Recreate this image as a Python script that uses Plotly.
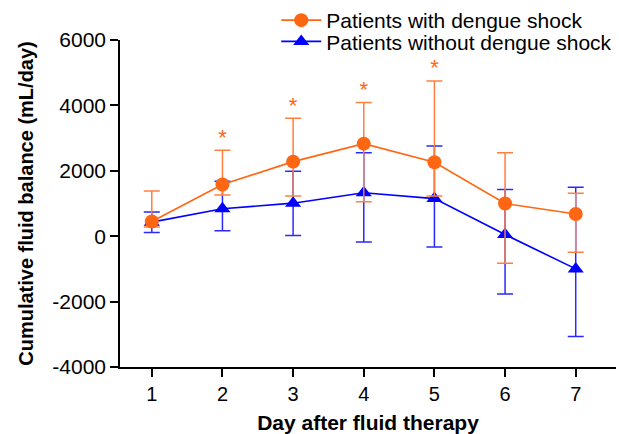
import plotly.graph_objects as go

days = [1, 2, 3, 4, 5, 6, 7]
shock_mean = [450, 1580, 2280, 2830, 2260, 1000, 680]
shock_upper = [1380, 2630, 3610, 4090, 4750, 2550, 1310]
shock_lower = [285, 1260, 1230, 1050, 1230, -830, -490]
noshock_mean = [430, 840, 1010, 1330, 1150, 50, -1000]
noshock_upper = [740, 1680, 1990, 2550, 2760, 1430, 1500]
noshock_lower = [110, 170, 20, -180, -330, -1770, -3070]
sig_days = [2, 3, 4, 5]
y_ticks = [-4000, -2000, 0, 2000, 4000, 6000]

ORANGE = "#FF6611"
ORANGE_ERR = "#FF7F3F"
BLUE = "#0000FF"
BLUE_ERR = "#2A2AFF"

fig = go.Figure()
fig.add_trace(go.Scatter(
    x=days, y=noshock_mean, mode="lines+markers", name="Patients without dengue shock",
    line=dict(color=BLUE, width=1.6),
    marker=dict(symbol="triangle-up", size=14, color=BLUE),
    error_y=dict(type="data", symmetric=False,
                 array=[u - m for u, m in zip(noshock_upper, noshock_mean)],
                 arrayminus=[m - l for m, l in zip(noshock_mean, noshock_lower)],
                 color=BLUE_ERR, thickness=1.5, width=8),
    legend="legend2",
))
fig.add_trace(go.Scatter(
    x=days, y=shock_mean, mode="lines+markers", name="Patients with dengue shock",
    line=dict(color=ORANGE, width=1.6),
    marker=dict(symbol="circle", size=14, color=ORANGE),
    error_y=dict(type="data", symmetric=False,
                 array=[u - m for u, m in zip(shock_upper, shock_mean)],
                 arrayminus=[m - l for m, l in zip(shock_mean, shock_lower)],
                 color=ORANGE_ERR, thickness=1.5, width=8),
    legend="legend",
))
sig_y = [shock_upper[days.index(d)] for d in sig_days]
fig.add_trace(go.Scatter(
    x=sig_days, y=sig_y, mode="text", text=["*"] * len(sig_days),
    textposition="top center", textfont=dict(color=ORANGE, size=22, family="Liberation Sans"),
    showlegend=False, hoverinfo="skip",
))

legend_common = dict(xanchor="left", yanchor="top", yref="container",
                     font=dict(size=21), bgcolor="rgba(0,0,0,0)", itemwidth=40)
fig.update_layout(
    width=619, height=434,
    margin=dict(l=120, r=3, t=40, b=67, autoexpand=False),
    paper_bgcolor="white", plot_bgcolor="white",
    font=dict(family="Liberation Sans, Arial, sans-serif", color="black", size=20),
    legend=dict(x=0.315, y=1.003, **legend_common),
    legend2=dict(x=0.315, y=0.951, **legend_common),
    showlegend=True,
)
fig.update_xaxes(
    range=[0.55, 7.57], tickmode="array", tickvals=days, ticktext=[str(d) for d in days],
    showline=True, linecolor="black", linewidth=1.5, ticks="outside", ticklen=8,
    tickwidth=1.5, tickcolor="black", showgrid=False, zeroline=False,
    title=dict(text="<b>Day after fluid therapy</b>", font=dict(size=21), standoff=12),
    tickfont=dict(size=20),
)
fig.update_yaxes(
    range=[-4000, 6000], tickmode="array", tickvals=y_ticks, ticktext=[str(t) for t in y_ticks],
    showline=True, linecolor="black", linewidth=1.5, ticks="outside", ticklen=8,
    tickwidth=1.5, tickcolor="black", showgrid=False, zeroline=False,
    title=dict(text="<b>Cumulative fluid balance (mL/day)</b>", font=dict(size=20), standoff=13),
    tickfont=dict(size=21),
)

fig.write_html("out.html")
